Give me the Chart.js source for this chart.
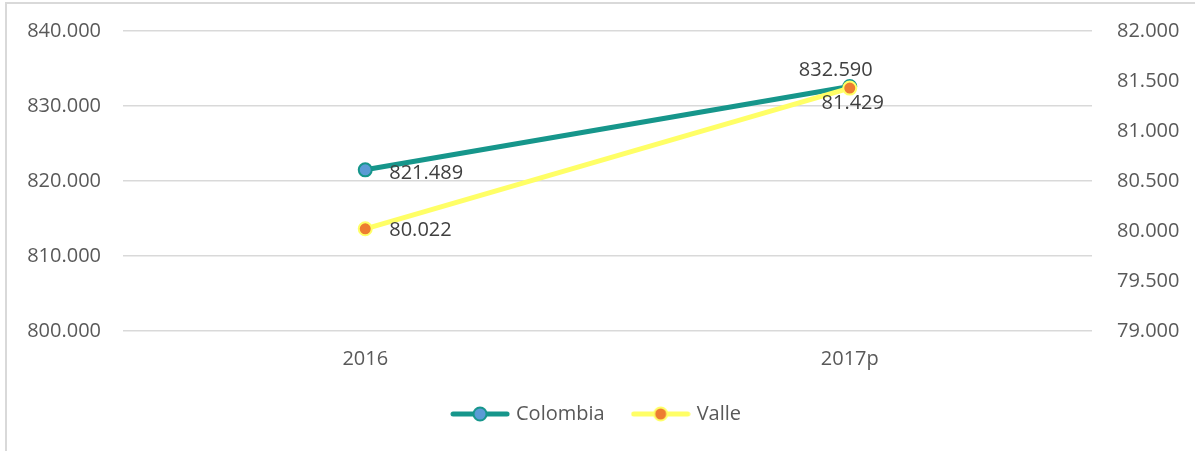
<!DOCTYPE html>
<html>
<head>
<meta charset="utf-8">
<script src="https://cdn.jsdelivr.net/npm/chart.js@4.4.1/dist/chart.umd.min.js"></script>
<style>
  html, body { margin: 0; padding: 0; background: #fff; overflow: hidden; }
  #frame { position: absolute; left: 5px; top: 2px; width: 1300px; height: 600px;
           border-left: 2px solid #d9d9d9; border-top: 2px solid #d9d9d9; }
  #wrap { position: absolute; left: 0; top: 0; width: 1195px; height: 451px; }
</style>
</head>
<body>
<div id="frame"></div>
<div id="wrap"><canvas id="chart" width="1195" height="451"></canvas></div>
<script>
const years = ['2016', '2017p'];
const colombia = [821489, 832590];
const valle = [80022, 81429];
const leftTicks = [800000, 810000, 820000, 830000, 840000];
const rightTicks = [79000, 79500, 80000, 80500, 81000, 81500, 82000];

const FONT = '"Open Sans", sans-serif';
const TEXT = '#595959';

function fmt(v) {
    return String(Math.round(v)).replace(/\B(?=(\d{3})+(?!\d))/g, '.');
}

function legendIcon(line, fill, border) {
    const c = document.createElement('canvas');
    c.width = 60; c.height = 18;
    const g = c.getContext('2d');
    g.strokeStyle = line;
    g.lineWidth = 5;
    g.lineCap = 'round';
    g.beginPath(); g.moveTo(3, 9); g.lineTo(57, 9); g.stroke();
    g.beginPath(); g.arc(30, 9, 6.5, 0, Math.PI * 2);
    g.fillStyle = fill; g.fill();
    g.lineWidth = 2; g.strokeStyle = border; g.stroke();
    return c;
}

// data label positions relative to the point: [dx, dy, align]
const labelPos = {
    0: [[24, 3, 'left'], [-14, -16, 'center']],
    1: [[24, 1, 'left'], [3, 15, 'center']]
};

const dataLabels = {
    id: 'dataLabels',
    afterDatasetsDraw(chart) {
        const ctx = chart.ctx;
        ctx.save();
        ctx.font = '20px ' + FONT;
        ctx.fillStyle = '#404040';
        ctx.textBaseline = 'middle';
        chart.data.datasets.forEach((ds, di) => {
            const meta = chart.getDatasetMeta(di);
            meta.data.forEach((pt, i) => {
                const p = labelPos[di][i];
                ctx.textAlign = p[2];
                ctx.fillText(fmt(ds.data[i]), pt.x + p[0], pt.y + p[1]);
            });
        });
        ctx.restore();
    }
};

function fixY(width) {
    return function (scale) {
        scale.width = width;
        scale.paddingTop = 0;
        scale.paddingBottom = 0;
    };
}

new Chart(document.getElementById('chart'), {
    type: 'line',
    data: {
        labels: years,
        datasets: [{
            label: 'Colombia',
            data: colombia,
            yAxisID: 'y',
            borderColor: '#16968b',
            borderWidth: 5,
            pointRadius: 6.5,
            pointBorderWidth: 2,
            pointBackgroundColor: '#5b9bd5',
            pointBorderColor: '#16968b',
            order: 1
        }, {
            label: 'Valle',
            data: valle,
            yAxisID: 'y1',
            borderColor: '#ffff66',
            borderWidth: 5,
            pointRadius: 6.5,
            pointBorderWidth: 2,
            pointBackgroundColor: '#ed7d31',
            pointBorderColor: '#ffff66',
            order: 0
        }]
    },
    options: {
        responsive: false,
        animation: false,
        layout: { padding: { top: 31, bottom: 17, left: 0, right: 0 } },
        plugins: {
            tooltip: { enabled: false },
            legend: {
                position: 'bottom',
                labels: {
                    usePointStyle: true,
                    pointStyleWidth: 52,
                    padding: 30,
                    color: TEXT,
                    font: { family: FONT, size: 20 },
                    generateLabels(chart) {
                        return [
                            { text: 'Colombia', pointStyle: legendIcon('#16968b', '#5b9bd5', '#16968b'),
                              fontColor: TEXT, datasetIndex: 0, lineWidth: 0 },
                            { text: 'Valle', pointStyle: legendIcon('#ffff66', '#ed7d31', '#ffff66'),
                              fontColor: TEXT, datasetIndex: 1, lineWidth: 0 }
                        ];
                    }
                }
            }
        },
        scales: {
            x: {
                offset: true,
                grid: { display: false, drawTicks: false },
                border: { display: false },
                ticks: { color: TEXT, font: { family: FONT, size: 20 }, padding: 16 },
                afterFit(scale) { scale.height = 43; }
            },
            y: {
                position: 'left',
                min: 800000,
                max: 840000,
                afterBuildTicks(scale) { scale.ticks = leftTicks.map(v => ({ value: v })); },
                grid: { color: '#d9d9d9', lineWidth: 1.5, drawTicks: false },
                border: { display: false },
                ticks: { color: TEXT, font: { family: FONT, size: 20 }, padding: 22, callback: v => fmt(v) },
                afterFit: fixY(123)
            },
            y1: {
                position: 'right',
                min: 79000,
                max: 82000,
                afterBuildTicks(scale) { scale.ticks = rightTicks.map(v => ({ value: v })); },
                grid: { display: false, drawTicks: false },
                border: { display: false },
                ticks: { color: TEXT, font: { family: FONT, size: 20 }, padding: 25, callback: v => fmt(v) },
                afterFit: fixY(103)
            }
        }
    },
    plugins: [dataLabels]
});
</script>
</body>
</html>
